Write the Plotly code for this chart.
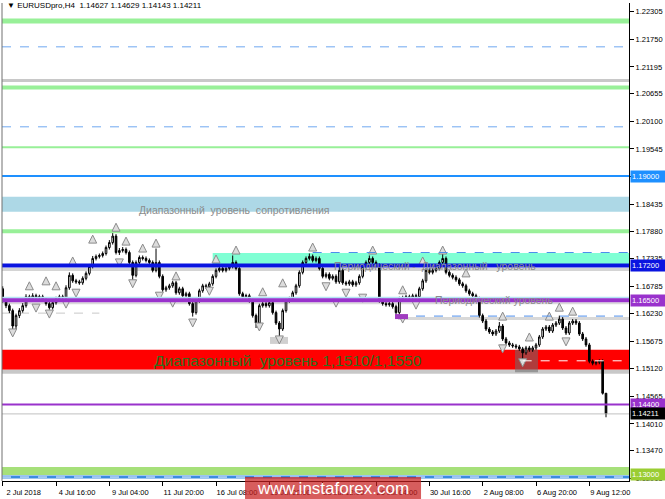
import plotly.graph_objects as go

# ---------------- data ----------------
bar_index = list(range(182))

open_ = [1.1673,1.1649,1.1639,1.1629,1.1598,1.1619,1.1629,1.1639,1.1657,1.1653,
         1.1659,1.1655,1.1657,1.1651,1.1643,1.1635,1.1645,1.1653,1.1657,1.1655,
         1.1675,1.1700,1.1689,1.1687,1.1685,1.1694,1.1704,1.1718,1.1734,1.1738,
         1.1740,1.1744,1.1756,1.1766,1.1779,1.1746,1.1750,1.1752,1.1746,1.1726,
         1.1700,1.1726,1.1736,1.1734,1.1730,1.1726,1.1710,1.1726,1.1698,1.1671,
         1.1675,1.1679,1.1685,1.1665,1.1673,1.1659,1.1663,1.1643,1.1625,1.1649,
         1.1669,1.1679,1.1677,1.1683,1.1698,1.1710,1.1714,1.1710,1.1714,1.1718,
         1.1726,1.1714,1.1663,1.1657,1.1659,1.1649,1.1619,1.1604,1.1639,1.1643,
         1.1639,1.1645,1.1625,1.1604,1.1592,1.1629,1.1649,1.1653,1.1665,1.1679,
         1.1706,1.1726,1.1734,1.1738,1.1730,1.1734,1.1714,1.1698,1.1702,1.1694,
         1.1698,1.1687,1.1710,1.1685,1.1683,1.1687,1.1681,1.1685,1.1698,1.1718,
         1.1726,1.1734,1.1726,1.1720,1.1649,1.1643,1.1641,1.1643,1.1637,1.1625,
         1.1653,1.1655,1.1657,1.1655,1.1659,1.1657,1.1673,1.1689,1.1710,1.1706,
         1.1710,1.1714,1.1726,1.1734,1.1706,1.1700,1.1696,1.1691,1.1683,1.1679,
         1.1669,1.1663,1.1659,1.1653,1.1619,1.1608,1.1592,1.1586,1.1582,1.1588,
         1.1598,1.1572,1.1564,1.1560,1.1558,1.1556,1.1552,1.1544,1.1554,1.1550,
         1.1554,1.1560,1.1576,1.1592,1.1596,1.1588,1.1600,1.1604,1.1612,1.1594,
         1.1584,1.1604,1.1608,1.1604,1.1582,1.1572,1.1560,1.1527,1.1523,1.1525,
         1.1527,1.14627]

high = [1.1678,1.1653,1.1643,1.1633,1.1623,1.1634,1.1644,1.1662,1.1661,1.1664,
        1.1663,1.1661,1.1661,1.1655,1.1647,1.1649,1.1657,1.1661,1.1661,1.1680,
        1.1706,1.1704,1.1693,1.1691,1.1698,1.1708,1.1723,1.1739,1.1742,1.1744,
        1.1748,1.1760,1.1771,1.1785,1.1783,1.1755,1.1757,1.1756,1.1750,1.1730,
        1.1730,1.1740,1.1740,1.1738,1.1734,1.1730,1.1754,1.1730,1.1702,1.1679,
        1.1683,1.1689,1.1689,1.1677,1.1677,1.1667,1.1667,1.1647,1.1653,1.1673,
        1.1683,1.1683,1.1687,1.1702,1.1714,1.1718,1.1718,1.1718,1.1722,1.1740,
        1.1730,1.1718,1.1667,1.1663,1.1663,1.1653,1.1623,1.1643,1.1647,1.1647,
        1.1649,1.1649,1.1629,1.1608,1.1633,1.1653,1.1657,1.1669,1.1683,1.1710,
        1.1730,1.1738,1.1744,1.1742,1.1738,1.1738,1.1718,1.1706,1.1706,1.1702,
        1.1702,1.1718,1.1714,1.1689,1.1691,1.1691,1.1689,1.1702,1.1722,1.1730,
        1.1740,1.1738,1.1730,1.1724,1.1653,1.1647,1.1647,1.1647,1.1641,1.1657,
        1.1659,1.1661,1.1661,1.1663,1.1663,1.1677,1.1693,1.1714,1.1714,1.1714,
        1.1718,1.1730,1.1744,1.1738,1.1710,1.1704,1.1700,1.1695,1.1687,1.1683,
        1.1673,1.1667,1.1663,1.1657,1.1623,1.1612,1.1596,1.1590,1.1592,1.1606,
        1.1602,1.1576,1.1568,1.1564,1.1562,1.1560,1.1556,1.1558,1.1558,1.1558,
        1.1564,1.1580,1.1596,1.1600,1.1600,1.1604,1.1608,1.1619,1.1616,1.1598,
        1.1608,1.1612,1.1612,1.1608,1.1586,1.1576,1.1564,1.1531,1.1529,1.1531,
        1.1531,1.14629]

low = [1.1645,1.1634,1.1624,1.1584,1.1592,1.1614,1.1625,1.1635,1.1649,1.1649,
       1.1651,1.1651,1.1647,1.1639,1.1631,1.1631,1.1641,1.1649,1.1651,1.1651,
       1.1671,1.1685,1.1683,1.1681,1.1681,1.1690,1.1700,1.1714,1.1730,1.1734,
       1.1736,1.1740,1.1752,1.1762,1.1742,1.1741,1.1746,1.1742,1.1722,1.1685,
       1.1696,1.1722,1.1730,1.1726,1.1722,1.1706,1.1706,1.1694,1.1667,1.1667,
       1.1671,1.1675,1.1661,1.1661,1.1655,1.1655,1.1639,1.1617,1.1621,1.1645,
       1.1665,1.1673,1.1673,1.1679,1.1694,1.1706,1.1706,1.1706,1.1710,1.1714,
       1.1710,1.1659,1.1653,1.1653,1.1645,1.1615,1.1594,1.1600,1.1635,1.1635,
       1.1635,1.1621,1.1600,1.1572,1.1588,1.1625,1.1645,1.1649,1.1661,1.1675,
       1.1702,1.1722,1.1730,1.1726,1.1726,1.1710,1.1694,1.1694,1.1690,1.1690,
       1.1683,1.1683,1.1681,1.1679,1.1679,1.1677,1.1677,1.1681,1.1694,1.1714,
       1.1722,1.1722,1.1716,1.1645,1.1639,1.1637,1.1637,1.1633,1.1615,1.1621,
       1.1649,1.1651,1.1651,1.1651,1.1653,1.1653,1.1669,1.1685,1.1702,1.1702,
       1.1706,1.1710,1.1722,1.1702,1.1696,1.1692,1.1687,1.1679,1.1675,1.1665,
       1.1659,1.1655,1.1649,1.1615,1.1604,1.1588,1.1582,1.1578,1.1578,1.1584,
       1.1568,1.1560,1.1556,1.1554,1.1552,1.1548,1.1527,1.1540,1.1546,1.1546,
       1.1550,1.1556,1.1572,1.1588,1.1584,1.1584,1.1596,1.1600,1.1590,1.1580,
       1.1580,1.1600,1.1600,1.1578,1.1568,1.1556,1.1523,1.1519,1.1519,1.1521,
       1.1460,1.14143]

close = [1.1649,1.1639,1.1629,1.1598,1.1619,1.1629,1.1639,1.1657,1.1653,1.1659,
         1.1655,1.1657,1.1651,1.1643,1.1635,1.1645,1.1653,1.1657,1.1655,1.1675,
         1.1700,1.1689,1.1687,1.1685,1.1694,1.1704,1.1718,1.1734,1.1738,1.1740,
         1.1744,1.1756,1.1766,1.1779,1.1746,1.1750,1.1752,1.1746,1.1726,1.1700,
         1.1726,1.1736,1.1734,1.1730,1.1726,1.1710,1.1726,1.1698,1.1671,1.1675,
         1.1679,1.1685,1.1665,1.1673,1.1659,1.1663,1.1643,1.1625,1.1649,1.1669,
         1.1679,1.1677,1.1683,1.1698,1.1710,1.1714,1.1710,1.1714,1.1718,1.1726,
         1.1714,1.1663,1.1657,1.1659,1.1649,1.1619,1.1604,1.1639,1.1643,1.1639,
         1.1645,1.1625,1.1604,1.1592,1.1629,1.1649,1.1653,1.1665,1.1679,1.1706,
         1.1726,1.1734,1.1738,1.1730,1.1734,1.1714,1.1698,1.1702,1.1694,1.1698,
         1.1687,1.1710,1.1685,1.1683,1.1687,1.1681,1.1685,1.1698,1.1718,1.1726,
         1.1734,1.1726,1.1720,1.1649,1.1643,1.1641,1.1643,1.1637,1.1625,1.1653,
         1.1655,1.1657,1.1655,1.1659,1.1657,1.1673,1.1689,1.1710,1.1706,1.1710,
         1.1714,1.1726,1.1734,1.1706,1.1700,1.1696,1.1691,1.1683,1.1679,1.1669,
         1.1663,1.1659,1.1653,1.1619,1.1608,1.1592,1.1586,1.1582,1.1588,1.1598,
         1.1572,1.1564,1.1560,1.1558,1.1556,1.1552,1.1544,1.1554,1.1550,1.1554,
         1.1560,1.1576,1.1592,1.1596,1.1588,1.1600,1.1604,1.1612,1.1594,1.1584,
         1.1604,1.1608,1.1604,1.1582,1.1572,1.1560,1.1527,1.1523,1.1525,1.1527,
         1.14627,1.14211]

# fractal arrows (bar index, price)
fractal_up_idx = [8,13,16,21,27,34,37,42,46,52,64,70,78,84,93,111,120,126,132,139,150,158,164,167,171]
fractal_up_price = [1.1687,1.1697,1.1687,1.1737,1.1781,1.1805,1.1777,1.1763,1.1773,1.1707,1.1741,1.1759,
                    1.1675,1.1693,1.1765,1.1759,1.1679,1.1737,1.1759,1.1713,1.1626,1.1584,1.1626,1.1644,1.1636]
fractal_dn_idx = [3,10,14,19,22,35,39,47,51,57,62,77,83,97,100,103,108,120,124,150,156,169]
fractal_dn_price = [1.1576,1.1626,1.1614,1.1634,1.1656,1.1717,1.1675,1.1650,1.1636,1.1596,1.1660,1.1588,
                    1.1562,1.1669,1.1636,1.1656,1.1646,1.1604,1.1632,1.1544,1.1516,1.1558]

# x tick labels (every 16 bars)
x_tick_idx = [0,16,32,48,64,80,96,112,128,144,160,176]
x_tick_text = ["2 Jul 2018","4 Jul 16:00","9 Jul 04:00","11 Jul 20:00","16 Jul 08:00","19 Jul 00:00",
               "23 Jul 12:00","26 Jul 04:00","30 Jul 16:00","2 Aug 08:00","6 Aug 20:00","9 Aug 12:00"]
y_tick_vals = [1.22305,1.21750,1.21195,1.20655,1.20100,1.19545,1.19000,1.18435,1.17880,1.17335,
               1.16785,1.16230,1.15675,1.15120,1.14565,1.14010,1.13470,1.12915]

# levels / zones (prices)
zone_top = [1.2207, 1.2217]
lvl_dash_1 = 1.2160
lvl_grey_1 = 1.2092
lvl_green_1 = 1.2078
lvl_dash_2 = 1.1999
lvl_green_2 = 1.1958
lvl_blue_1 = 1.1900
zone_resistance = [1.1828, 1.1858]
lvl_green_3 = 1.1789
zone_periodic = [1.1722, 1.1745]
lvl_dash_3 = 1.1746
lvl_blue_2 = 1.1720
lvl_grey_2 = 1.1712
lvl_cyan = 1.1655
lvl_purple_1 = 1.1650
lvl_grey_3 = 1.1644
lvl_grey_left = 1.1624
lvl_dash_4 = 1.1618
lvl_grey_4 = 1.1613
zone_range = [1.1510, 1.1550]
zone_range_shadow = [1.1502, 1.1510]
lvl_white_dash = 1.1528
lvl_purple_2 = 1.1440
bid_price = 1.14211
zone_bottom = [1.1298, 1.1314]
lvl_bottom_dash = 1.1294
box_dark = [153.7, 160.6, 1.1505, 1.1550]
box_grey = [80.2, 85.6, 1.1562, 1.1576]
box_purple = [117.7, 121.6, 1.1612, 1.1622]

quote_text = "1.14627 1.14629 1.14143 1.14211"
highlight_labels = [(1.19000, "#1E90FF"), (1.17200, "#0A14E0"), (1.16500, "#9932CC"),
                    (1.14400, "#9932CC"), (1.14211, "#000000"), (1.13000, "#9ACD32")]

# ---------------- figure ----------------
X_MIN, X_MAX = -0.21, 187.9
Y_MIN, Y_MAX = 1.128603, 1.224825
FONT = "Liberation Sans, Arial, sans-serif"

fig = go.Figure()
fig.add_trace(go.Candlestick(
    x=bar_index, open=open_, high=high, low=low, close=close,
    increasing=dict(line=dict(color="black", width=1), fillcolor="white"),
    decreasing=dict(line=dict(color="black", width=1), fillcolor="black"),
    whiskerwidth=0, hoverinfo="skip", showlegend=False))

arrow_style = dict(size=8, color="#DCDCDC", line=dict(color="#8C8C8C", width=1))
fig.add_trace(go.Scatter(x=fractal_up_idx, y=fractal_up_price, mode="markers",
                         marker=dict(symbol="arrow-up", **arrow_style), hoverinfo="skip", showlegend=False))
fig.add_trace(go.Scatter(x=fractal_dn_idx, y=fractal_dn_price, mode="markers",
                         marker=dict(symbol="arrow-down", **arrow_style), hoverinfo="skip", showlegend=False))

shapes = []
def rect(y0, y1, color, x0=X_MIN, x1=X_MAX, layer="below"):
    shapes.append(dict(type="rect", xref="x", yref="y", x0=x0, x1=x1, y0=y0, y1=y1,
                       fillcolor=color, line=dict(width=0), layer=layer))
def hline(y, color, width, dash="solid", x0=X_MIN, x1=X_MAX, layer="above"):
    shapes.append(dict(type="line", xref="x", yref="y", x0=x0, x1=x1, y0=y, y1=y,
                       line=dict(color=color, width=width, dash=dash), layer=layer))

rect(zone_top[0], zone_top[1], "#98F098")
hline(lvl_dash_1, "#6FA8F0", 1, "dash")
hline(lvl_grey_1, "#C8C8C8", 3)
hline(lvl_green_1, "#98F098", 4)
hline(lvl_dash_2, "#6FA8F0", 1, "dash")
hline(lvl_green_2, "#98F098", 2)
hline(lvl_blue_1, "#1E90FF", 2)
rect(zone_resistance[0], zone_resistance[1], "#ADD8E6")
hline(lvl_green_3, "#98F098", 4, layer="below")
rect(zone_periodic[0], zone_periodic[1], "#7FFFD4", x0=63.0)
hline(lvl_dash_3, "#4D8EEB", 1, "dash", x0=93.0)
hline(lvl_grey_2, "#D4D4D4", 3, layer="below")
hline(lvl_blue_2, "#0A14E0", 4)
hline(lvl_grey_3, "#DADADA", 2, layer="below")
hline(lvl_cyan, "#B4E4F4", 2)
hline(lvl_purple_1, "#9932CC", 4)
hline(lvl_grey_left, "#C8C8C8", 1, "dash", x1=29.0, layer="below")
hline(lvl_grey_4, "#D8D8D8", 3, x0=118.6, layer="below")
hline(lvl_dash_4, "#4D8EEB", 1, "dash", x0=118.6)
rect(box_grey[2], box_grey[3], "#D0D0D0", x0=box_grey[0], x1=box_grey[1])
rect(box_purple[2], box_purple[3], "#A03CC0", x0=box_purple[0], x1=box_purple[1], layer="above")
rect(zone_range[0], zone_range[1], "#FF0000")
rect(zone_range_shadow[0], zone_range_shadow[1], "#C8C8C8")
rect(box_dark[2], box_dark[3], "rgba(110,110,110,0.55)", x0=box_dark[0], x1=box_dark[1])
hline(lvl_white_dash, "white", 1, "dash", x0=156.0)
hline(lvl_purple_2, "#9932CC", 2)
hline(bid_price, "#C0C0C0", 1)
rect(zone_bottom[0], zone_bottom[1], "#A6E07A")
hline(lvl_bottom_dash, "#3C8CE0", 3)
hline(lvl_bottom_dash, "white", 1, "dash")
# left border
shapes.append(dict(type="line", xref="paper", yref="paper", x0=0, x1=0, y0=0, y1=1,
                   line=dict(color="#707070", width=1), layer="above"))
# watermark box
shapes.append(dict(type="rect", xref="paper", yref="paper", x0=0.3876, x1=0.6683, y0=-0.0377, y1=0.0084,
                   fillcolor="rgba(200,30,30,0.72)", line=dict(width=0), layer="above"))

annotations = []
annotations.append(dict(xref="paper", yref="paper", x=0.005, y=0.994, xanchor="left", yanchor="middle",
                        text="\u25BC EURUSDpro,H4  " + quote_text, showarrow=False,
                        font=dict(family=FONT, size=8, color="black")))
for val, col in highlight_labels:
    annotations.append(dict(xref="paper", yref="y", x=1, y=val, xanchor="left", yanchor="middle",
                            xshift=1, text=f"{val:.5f}", showarrow=False, bgcolor=col, width=33, height=9,
                            align="left", borderpad=1, font=dict(family=FONT, size=7.5, color="white")))
grey_txt = dict(family=FONT, size=10.5, color="#8C8C8C")
annotations.append(dict(xref="x", yref="y", x=40.3, y=1.1831, xanchor="left", yanchor="middle", showarrow=False,
                        text="Диапазонный\u00a0\u00a0уровень\u00a0\u00a0сопротивления", font=grey_txt))
annotations.append(dict(xref="x", yref="y", x=98.8, y=1.1718, xanchor="left", yanchor="middle", showarrow=False,
                        text="Периодический\u00a0-\u00a0\u00a0Диапазонный\u00a0\u00a0\u00a0уровень", font=grey_txt))
annotations.append(dict(xref="x", yref="y", x=129.0, y=1.1650, xanchor="left", yanchor="middle", showarrow=False,
                        text="Периодический\u00a0уровень", font=grey_txt))
annotations.append(dict(xref="x", yref="y", x=44.8, y=1.1528, xanchor="left", yanchor="middle", showarrow=False,
                        text="Диапазонный\u00a0\u00a0уровень 1,1510/1,1550",
                        font=dict(family=FONT, size=15.5, color="#2F6F1F")))
annotations.append(dict(xref="paper", yref="paper", x=0.528, y=-0.016, xanchor="center", yanchor="middle",
                        showarrow=False, text="www.instaforex.com",
                        font=dict(family=FONT, size=17, color="white")))

# tick label for 1.19000 is covered by its highlighted box, so only its mark is drawn by the axis
y_tick_text = ["" if v in [h[0] for h in highlight_labels] else f"{v:.5f}" for v in y_tick_vals]

fig.update_layout(
    width=665, height=499, margin=dict(l=2, r=36, t=3, b=18),
    paper_bgcolor="white", plot_bgcolor="white", showlegend=False,
    shapes=shapes, annotations=annotations,
    xaxis=dict(range=[X_MIN, X_MAX], rangeslider=dict(visible=False), showgrid=False, zeroline=False,
               showline=True, linecolor="black", linewidth=1, ticks="outside", ticklen=4, tickcolor="black",
               tickvals=x_tick_idx, ticktext=x_tick_text, ticklabelshift=21, ticklabelstandoff=0,
               tickfont=dict(family=FONT, size=7.5, color="black")),
    yaxis=dict(range=[Y_MIN, Y_MAX], side="right", showgrid=False, zeroline=False,
               showline=True, linecolor="black", linewidth=1, ticks="outside", ticklen=4, tickcolor="black",
               tickvals=y_tick_vals, ticktext=y_tick_text,
               tickfont=dict(family=FONT, size=7.5, color="black")),
)
fig.write_html("out.html", config={"displayModeBar": False},
               post_script="document.body.style.margin='0';document.body.style.overflow='hidden';")
